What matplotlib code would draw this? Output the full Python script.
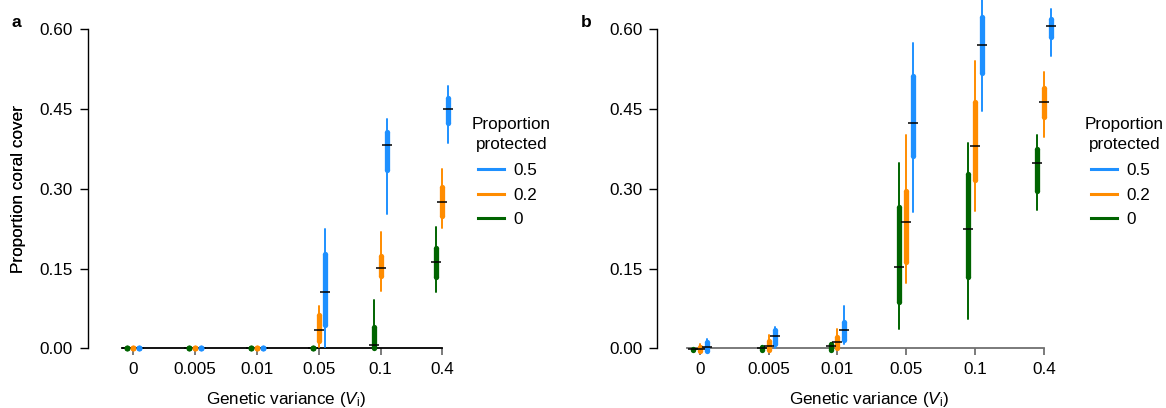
import matplotlib
matplotlib.use("Agg")
import matplotlib.pyplot as plt
from matplotlib.lines import Line2D
import numpy as np

plt.rcParams['font.family'] = ['Liberation Sans', 'DejaVu Sans']
plt.rcParams['mathtext.fontset'] = 'custom'
plt.rcParams['mathtext.rm'] = 'Liberation Sans'
plt.rcParams['mathtext.it'] = 'Liberation Sans:italic'

categories = ['0', '0.005', '0.01', '0.05', '0.1', '0.4']
protection_levels = ['0', '0.2', '0.5']
colors = {'0': '#006400', '0.2': '#FF8C00', '0.5': '#1E90FF'}

# Panel a: lo95, lo50, median, hi50, hi95 for each protection level
a_p0_lo95 = [0, 0, 0, 0, 0.000, 0.105]
a_p0_lo50 = [0, 0, 0, 0, 0.000, 0.135]
a_p0_med  = [0, 0, 0, 0, 0.006, 0.162]
a_p0_hi50 = [0, 0, 0, 0, 0.040, 0.189]
a_p0_hi95 = [0, 0, 0, 0, 0.091, 0.229]

a_p2_lo95 = [0, 0, 0, 0.002, 0.107, 0.226]
a_p2_lo50 = [0, 0, 0, 0.013, 0.136, 0.249]
a_p2_med  = [0, 0, 0, 0.034, 0.151, 0.275]
a_p2_hi50 = [0, 0, 0, 0.063, 0.174, 0.303]
a_p2_hi95 = [0, 0, 0, 0.080, 0.219, 0.337]

a_p5_lo95 = [0, 0, 0, 0.002, 0.252, 0.387]
a_p5_lo50 = [0, 0, 0, 0.043, 0.335, 0.424]
a_p5_med  = [0, 0, 0, 0.105, 0.382, 0.450]
a_p5_hi50 = [0, 0, 0, 0.177, 0.406, 0.470]
a_p5_hi95 = [0, 0, 0, 0.224, 0.431, 0.493]

# Panel b
b_p0_lo95 = [-0.004, -0.0045, -0.0045, 0.037, 0.055, 0.260]
b_p0_lo50 = [-0.004, -0.004, -0.003, 0.088, 0.134, 0.296]
b_p0_med  = [-0.002, 0.000, 0.004, 0.152, 0.224, 0.348]
b_p0_hi50 = [-0.002, 0.003, 0.008, 0.265, 0.328, 0.375]
b_p0_hi95 = [-0.001, 0.004, 0.0105, 0.348, 0.387, 0.401]

b_p2_lo95 = [-0.007, -0.0045, -0.002, 0.122, 0.258, 0.398]
b_p2_lo50 = [-0.0057, -0.003, 0.0006, 0.163, 0.317, 0.435]
b_p2_med  = [-0.002, 0.004, 0.011, 0.238, 0.380, 0.463]
b_p2_hi50 = [0.003, 0.014, 0.022, 0.296, 0.463, 0.490]
b_p2_hi95 = [0.008, 0.025, 0.036, 0.401, 0.540, 0.520]

b_p5_lo95 = [-0.006, 0.000, 0.008, 0.256, 0.446, 0.550]
b_p5_lo50 = [-0.0045, 0.008, 0.016, 0.362, 0.518, 0.586]
b_p5_med  = [0.002, 0.024, 0.034, 0.423, 0.570, 0.606]
b_p5_hi50 = [0.012, 0.034, 0.050, 0.512, 0.623, 0.619]
b_p5_hi95 = [0.0175, 0.040, 0.080, 0.574, 0.660, 0.639]

y_ticks = [0.00, 0.15, 0.30, 0.45, 0.60]
y_tick_labels = ['0.00', '0.15', '0.30', '0.45', '0.60']

panel_a = {
    '0': (a_p0_lo95, a_p0_lo50, a_p0_med, a_p0_hi50, a_p0_hi95),
    '0.2': (a_p2_lo95, a_p2_lo50, a_p2_med, a_p2_hi50, a_p2_hi95),
    '0.5': (a_p5_lo95, a_p5_lo50, a_p5_med, a_p5_hi50, a_p5_hi95),
}
panel_b = {
    '0': (b_p0_lo95, b_p0_lo50, b_p0_med, b_p0_hi50, b_p0_hi95),
    '0.2': (b_p2_lo95, b_p2_lo50, b_p2_med, b_p2_hi50, b_p2_hi95),
    '0.5': (b_p5_lo95, b_p5_lo50, b_p5_med, b_p5_hi50, b_p5_hi95),
}

W, H = 1166, 408
fig = plt.figure(figsize=(W / 100, H / 100), dpi=100)

top_px, bot_px = 0, 358
y_top, y_bot = 0.6551, -0.01824
dodge = {'0': -0.1, '0.2': 0.0, '0.5': 0.1}
THICK = 3.8
FS = 12.3


def make_panel(left_px, right_px, first_tick_px, spacing_px, spine_start_px, data,
               xspine_color, letter, leg_left_px, title_center_px):
    ax = fig.add_axes([left_px / W, (H - bot_px) / H,
                       (right_px - left_px) / W, (bot_px - top_px) / H])
    x0 = (left_px - first_tick_px) / spacing_px
    x1 = (right_px - first_tick_px) / spacing_px
    ax.set_xlim(x0, x1)
    ax.set_ylim(y_bot, y_top)
    xs = np.arange(len(categories))
    for lvl in protection_levels:
        lo95, lo50, med, hi50, hi95 = data[lvl]
        xp = xs + dodge[lvl]
        ax.vlines(xp, lo95, hi95, colors=colors[lvl], linewidth=1.4,
                  capstyle='round', zorder=3, clip_on=False)
        ax.vlines(xp, lo50, hi50, colors=colors[lvl], linewidth=THICK,
                  capstyle='butt', zorder=4, clip_on=False)
        ax.plot(np.r_[xp, xp], np.r_[lo50, hi50], linestyle='none', marker='o',
                markersize=THICK, markeredgewidth=0, color=colors[lvl],
                zorder=4, clip_on=False)
    for lvl in protection_levels:
        lo95, lo50, med, hi50, hi95 = data[lvl]
        xp = xs + dodge[lvl]
        ax.plot(xp, med, linestyle='none', marker='_', markersize=7.2,
                markeredgewidth=1.1, color='black', zorder=5, clip_on=False)
    for lvl in protection_levels:
        lo95, lo50, med, hi50, hi95 = data[lvl]
        xp = xs + dodge[lvl]
        zero = np.array(hi95) == np.array(lo95)
        ax.plot(xp[zero], np.array(lo50)[zero], linestyle='none', marker='o',
                markersize=THICK + 0.6, markeredgewidth=0, color=colors[lvl],
                zorder=6, clip_on=False)

    for s in ['top', 'right']:
        ax.spines[s].set_visible(False)
    ax.spines['left'].set_bounds(0, 0.6)
    ax.spines['left'].set_linewidth(1.0)
    ax.spines['bottom'].set_position(('data', 0))
    ax.spines['bottom'].set_bounds((spine_start_px - first_tick_px) / spacing_px,
                                   len(categories) - 1)
    ax.spines['bottom'].set_color(xspine_color)
    ax.spines['bottom'].set_linewidth(1.3)
    ax.spines['bottom'].set_zorder(2)
    ax.set_yticks(y_ticks)
    ax.set_yticklabels(y_tick_labels)
    ax.set_xticks(xs)
    ax.set_xticklabels(categories)
    ax.tick_params(axis='y', length=5.8, width=1.0, pad=5, labelsize=FS)
    ax.tick_params(axis='x', length=5, width=1.3, pad=5, labelsize=FS,
                   color='#707070')
    ax.set_ylabel('Proportion coral cover', fontsize=FS, va='center')
    ax.yaxis.set_label_coords((19 - left_px) / (right_px - left_px),
                              (0.3 - y_bot) / (y_top - y_bot))
    ax.set_xlabel(r'Genetic variance ($\mathit{V}_{\mathrm{i}}$)', fontsize=FS, va='top')
    xc_px = (spine_start_px + first_tick_px + 5 * spacing_px) / 2 + 4
    ax.xaxis.set_label_coords((xc_px - left_px) / (right_px - left_px),
                              -(390 - bot_px) / (bot_px - top_px))
    fig.text((left_px - 76) / W, 1 - 27 / H, letter, fontsize=12.5,
             fontweight='bold', ha='left', va='baseline')

    # legend title and entries
    fig.text(title_center_px / W, 1 - 125 / H, 'Proportion', fontsize=FS,
             ha='center', va='center')
    fig.text(title_center_px / W, 1 - 145 / H, 'protected', fontsize=FS,
             ha='center', va='center')
    handles = [Line2D([], [], color=colors[l], linewidth=2.2)
               for l in ['0.5', '0.2', '0']]
    fig.legend(handles, ['0.5', '0.2', '0'],
               loc='upper left', bbox_to_anchor=(leg_left_px / W, 1 - 163 / H),
               frameon=False, fontsize=FS,
               borderpad=0, borderaxespad=0, handlelength=1.55,
               handletextpad=0.5, labelspacing=0.56)
    return ax


make_panel(88, 460, 133.3, 61.8, 122, panel_a, 'black', 'a', 478, 511.5)
make_panel(657.3, 1070, 699.7, 68.86, 687, panel_b, '#707070', 'b', 1091, 1124.5)

fig.savefig('out.png', dpi=100)
